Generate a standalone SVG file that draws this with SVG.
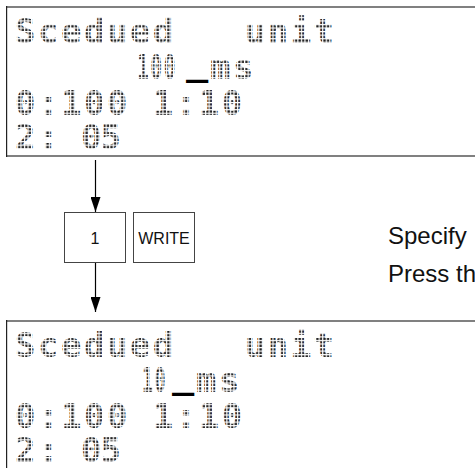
<svg xmlns="http://www.w3.org/2000/svg" width="475" height="468" viewBox="0 0 475 468">
<defs>
<pattern id="dm" width="3.55" height="3.55" patternUnits="userSpaceOnUse"><rect x="0.3" y="0.3" width="2.3" height="2.3" fill="#1a1a1a"/></pattern>
<marker id="ah" viewBox="0 0 15 10" refX="15" refY="5" markerWidth="15" markerHeight="10" markerUnits="userSpaceOnUse" orient="auto"><path d="M0,0 L15,5 L0,10 Z" fill="#000"/></marker>
</defs>
<style>
.lcd{font-family:"DejaVu Sans Mono","Liberation Mono",monospace;font-weight:bold;font-size:34px;letter-spacing:2.5px;fill:url(#dm);white-space:pre}
.cur{fill:#000}
.frame-h{stroke:#808080;stroke-width:2;fill:none}
.frame-v{stroke:#222;stroke-width:1.2;fill:none}
.key rect{fill:#fff;stroke:#444;stroke-width:1}
.key text{font-family:"Liberation Sans",Arial,sans-serif;font-size:16px;fill:#111;text-anchor:middle}
.note{font-family:"Liberation Sans",Arial,sans-serif;font-size:24px;fill:#111}
.conn line{stroke:#000;stroke-width:1.2}
</style>

<g id="display-before">
<path class="frame-h" d="M6,7 H475 M6,156 H475"/>
<path class="frame-v" d="M6.6,6 V157"/>
<text class="lcd" x="15" y="43" xml:space="preserve">Scedued   unit</text>
<text class="lcd" y="79"><tspan x="137" textLength="40" lengthAdjust="spacingAndGlyphs">100</tspan><tspan class="cur" x="186" dy="-4" textLength="25" lengthAdjust="spacingAndGlyphs">_</tspan><tspan x="210" dy="4">ms</tspan></text>
<text class="lcd" x="15" y="115" xml:space="preserve">0:100 1:10</text>
<text class="lcd" y="149"><tspan x="15">2:</tspan><tspan x="81" letter-spacing="-1">05</tspan></text>
</g>

<g id="key-1" class="key">
<rect x="64.5" y="212.5" width="61" height="50"/>
<text x="95" y="244">1</text>
</g>

<g id="key-write" class="key">
<rect x="133.5" y="212.5" width="61" height="50"/>
<text x="164" y="244">WRITE</text>
</g>

<g id="instructions">
<text class="note" x="388" y="244">Specify</text>
<text class="note" x="388" y="282">Press th</text>
</g>

<g id="display-after">
<path class="frame-h" d="M6,321 H475"/>
<path class="frame-v" d="M6.6,320 V468"/>
<text class="lcd" x="15" y="357" xml:space="preserve">Scedued   unit</text>
<text class="lcd" y="392"><tspan x="142" textLength="25" lengthAdjust="spacingAndGlyphs">10</tspan><tspan class="cur" x="172" dy="-4" textLength="25" lengthAdjust="spacingAndGlyphs">_</tspan><tspan x="196" dy="4">ms</tspan></text>
<text class="lcd" x="15" y="428" xml:space="preserve">0:100 1:10</text>
<text class="lcd" y="462"><tspan x="15">2:</tspan><tspan x="81" letter-spacing="-1">05</tspan></text>
</g>

<g id="connectors" class="conn">
<line x1="95.5" y1="160" x2="95.5" y2="212" marker-end="url(#ah)"/>
<line x1="95.5" y1="263" x2="95.5" y2="312" marker-end="url(#ah)"/>
</g>
</svg>
